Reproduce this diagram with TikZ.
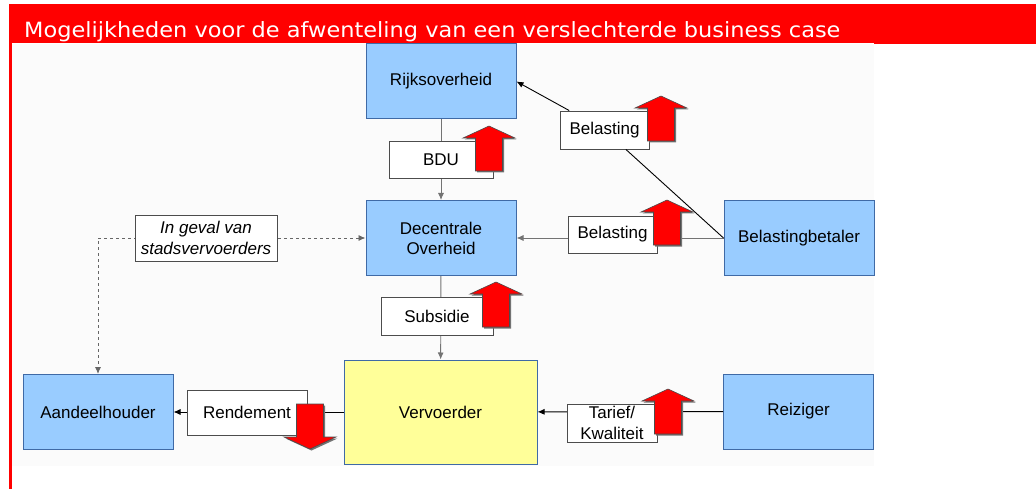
\documentclass[tikz,border=0pt]{standalone}
\usepackage{fontspec}
\setmainfont{Liberation Sans}
\newfontfamily\titelfont{DejaVu Sans}
\usetikzlibrary{arrows.meta}

\definecolor{lichtblauw}{HTML}{99CCFF}
\definecolor{blauwrand}{HTML}{3F6AA6}
\definecolor{lichtgeel}{HTML}{FFFF99}
\definecolor{titelrood}{HTML}{FF0000}

\newcommand{\rodepijl}[3]{%
\fill[black!55, xshift=1.5pt, yshift=-1.5pt, shift={(#1,#2)}, yscale=#3] (0,0) -- (26,12) -- (13.5,12) -- (13.5,45) -- (-13.5,45) -- (-13.5,12) -- (-26,12) -- cycle;
\draw[pijl, shift={(#1,#2)}, yscale=#3] (0,0) -- (26,12) -- (13.5,12) -- (13.5,45) -- (-13.5,45) -- (-13.5,12) -- (-26,12) -- cycle;}

\begin{document}
\begin{tikzpicture}[x=1pt, y=-1pt,
  blok/.style={draw=blauwrand, line width=1pt, fill=lichtblauw, minimum width=150pt, minimum height=75pt, inner sep=0pt, align=center, font=\fontsize{17}{20}\selectfont},
  etiket/.style={draw=black!70, line width=0.9pt, fill=white, inner sep=0pt, align=center, font=\fontsize{17}{21}\selectfont},
  lijn/.style={line width=0.9pt, -{Latex[length=7pt, width=6pt]}},
  stippel/.style={line width=0.9pt, draw=black!60, dashed, {Latex[length=7pt, width=6pt]}-{Latex[length=7pt, width=6pt]}},
  pijl/.style={fill=titelrood, draw=black!70, line width=0.6pt}]
\useasboundingbox (0,0) rectangle (1036,489);

\fill[white] (0,0) rectangle (1036,489);
\fill[black!1.5] (12,44) rectangle (874,466);
\fill[titelrood] (9,4) rectangle (1036,43);
\fill[titelrood] (874,43) rectangle (1036,44);
\fill[titelrood] (9,43) rectangle (11.5,489);
\node[anchor=base west, inner sep=0pt, text=white, font=\titelfont\fontsize{21}{24}\selectfont] (titel) at (24,38) {\scalebox{1.069}[1]{Mogelijkheden voor de afwenteling van een verslechterde business case}};

\node[blok] (rijk) at (441,81.5) {Rijksoverheid};
\node[blok] (decentraal) at (441,238) {Decentrale\\Overheid};
\node[blok] (betaler) at (799,238) {Belastingbetaler};
\node[blok] (aandeel) at (98,412) {Aandeelhouder};
\node[blok] (reiziger) at (798.5,411.5) {Reiziger};
\node[blok, fill=lichtgeel, minimum width=193pt, minimum height=104pt] (vervoerder) at (440.5,412) {Vervoerder};

\draw[lijn, draw=black!55] (rijk) -- (decentraal);
\draw[lijn, draw=black!55] (decentraal) -- (vervoerder);
\draw[lijn, draw=black!55] (betaler) -- (decentraal);
\draw[lijn] (vervoerder) -- (aandeel);
\draw[lijn] (reiziger) -- (vervoerder);
\draw[stippel] (decentraal.west) -| (aandeel.north);

\node[etiket, minimum width=104pt, minimum height=37pt] (bdu) at (441,159.5) {BDU};
\node[etiket, minimum width=89pt, minimum height=38pt] (bel1) at (604.5,130) {Belasting};
\node[etiket, minimum width=89pt, minimum height=37pt] (bel2) at (612.5,234.5) {Belasting};
\node[etiket, minimum width=112pt, minimum height=38pt] (subsidie) at (437,316) {Subsidie};
\node[etiket, minimum width=120pt, minimum height=45pt] (rendement) at (247,412.5) {Rendement};
\node[etiket, minimum width=90pt, minimum height=38pt] (tarief) at (612,423) {Tarief/\\Kwaliteit};
\node[etiket, minimum width=142pt, minimum height=46pt, font=\fontsize{17}{21}\selectfont\itshape] (geval) at (206,238) {In geval van\\stadsvervoerders};

\rodepijl{489}{126}{1}
\rodepijl{661}{96}{1}
\rodepijl{667}{200}{1}
\rodepijl{496}{282}{1}
\rodepijl{668}{389}{1}
\rodepijl{310}{449}{-1}

\draw[line width=0.9pt] (betaler.west) -- (bel1);
\draw[lijn] (bel1) -- (rijk.east);

\end{tikzpicture}
\end{document}
